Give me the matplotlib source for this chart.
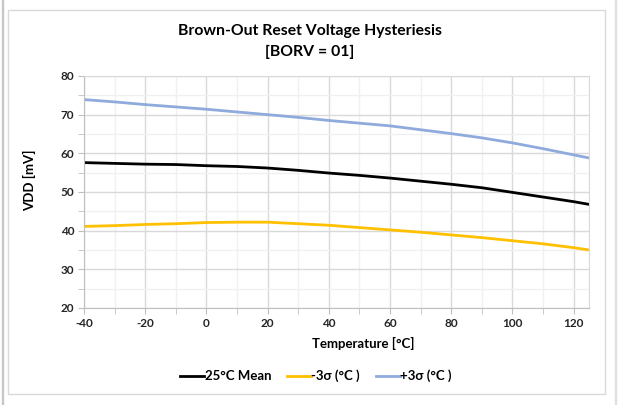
import matplotlib.pyplot as plt
from matplotlib.lines import Line2D
from matplotlib.patches import Rectangle
from matplotlib.ticker import MultipleLocator

# --- data ---
temps = [-40, -30, -20, -10, 0, 10, 20, 30, 40, 50, 60, 70, 80, 90, 100, 110, 120, 125]
mean_25c = [57.6, 57.4, 57.2, 57.1, 56.8, 56.6, 56.2, 55.6, 54.9, 54.3, 53.6,
            52.8, 52.0, 51.1, 49.9, 48.7, 47.5, 46.8]
minus_3sigma = [41.1, 41.3, 41.6, 41.8, 42.1, 42.2, 42.2, 41.8, 41.4, 40.8, 40.2,
                39.6, 38.9, 38.2, 37.4, 36.6, 35.6, 35.0]
plus_3sigma = [73.9, 73.3, 72.6, 72.0, 71.4, 70.7, 70.0, 69.3, 68.5, 67.8, 67.1,
               66.1, 65.1, 64.0, 62.7, 61.2, 59.6, 58.8]

series_labels = ["25°C Mean", "-3σ (°C )", "+3σ (°C )"]
series_colors = ["#000000", "#FFC000", "#8FAADC"]

plt.rcParams['font.family'] = ['Lato', 'DejaVu Sans']
plt.rcParams['font.weight'] = 'bold'
plt.rcParams['axes.unicode_minus'] = False

W, H = 620, 405
fig = plt.figure(figsize=(6.2, 4.05), dpi=100)

# outer chart frame
fig.patches.append(Rectangle((8 / W, 1 - 394 / H), 597 / W, 384 / H,
                             transform=fig.transFigure, fill=False,
                             edgecolor="#D9D9D9", linewidth=1.0))
fig.patches.append(Rectangle((2 / W, 0), 1 / W, 1, transform=fig.transFigure,
                             color="#C8C8C8"))
fig.patches.append(Rectangle((615 / W, 0), 1 / W, 1, transform=fig.transFigure,
                             color="#E0E0E0"))

ax = fig.add_axes([84 / W, 1 - 308 / H, 505 / W, 232 / H])

for y, color in zip([mean_25c, minus_3sigma, plus_3sigma], series_colors):
    ax.plot(temps, y, color=color, linewidth=2.0, solid_capstyle="round",
            solid_joinstyle="round")

ax.set_xlim(-40, 125)
ax.set_ylim(20, 80)
ax.xaxis.set_major_locator(MultipleLocator(20))
ax.xaxis.set_minor_locator(MultipleLocator(10))
ax.yaxis.set_major_locator(MultipleLocator(10))
ax.yaxis.set_minor_locator(MultipleLocator(5))

ax.grid(which="major", color="#D9D9D9", linewidth=1.0)
ax.grid(which="minor", color="#F0F0F0", linewidth=1.0)
ax.set_axisbelow(True)

for s in ax.spines.values():
    s.set_color("#D9D9D9")
ax.spines["left"].set_color("#BFBFBF")
ax.spines["bottom"].set_color("#BFBFBF")

ax.tick_params(which="both", direction="out", color="#BFBFBF", length=4)
ax.tick_params(labelsize=8.5, pad=3, labelcolor="#262626")
fig.canvas.draw()
plt.setp(ax.get_xticklabels() + ax.get_yticklabels(), fontweight="bold")

# axis titles (Excel places the x title a bit right of centre)
fig.text(363 / W, 1 - 343 / H, "Temperature [°C]", ha="center", va="center",
         fontsize=9.5, fontweight="bold")
fig.text(30 / W, 1 - 180 / H, "VDD [mV]", ha="center", va="center",
         rotation=90, fontsize=9.5, fontweight="bold")

fig.text(0.5, 1 - 31 / H, "Brown-Out Reset Voltage Hysteriesis", ha="center",
         va="center", fontsize=11.3, fontweight="bold")
fig.text(0.5, 1 - 52 / H, "[BORV = 01]", ha="center", va="center",
         fontsize=11.3, fontweight="bold")

handles = [Line2D([0], [0], color=c, linewidth=2.0) for c in series_colors]
fig.legend(handles, series_labels, loc="center", bbox_to_anchor=(316 / W, 1 - 376 / H),
           ncol=3, frameon=False, handlelength=1.8, handletextpad=0.05,
           columnspacing=1.2, prop={"weight": "bold", "size": 9.5})

plt.savefig("out.png", dpi=100)
